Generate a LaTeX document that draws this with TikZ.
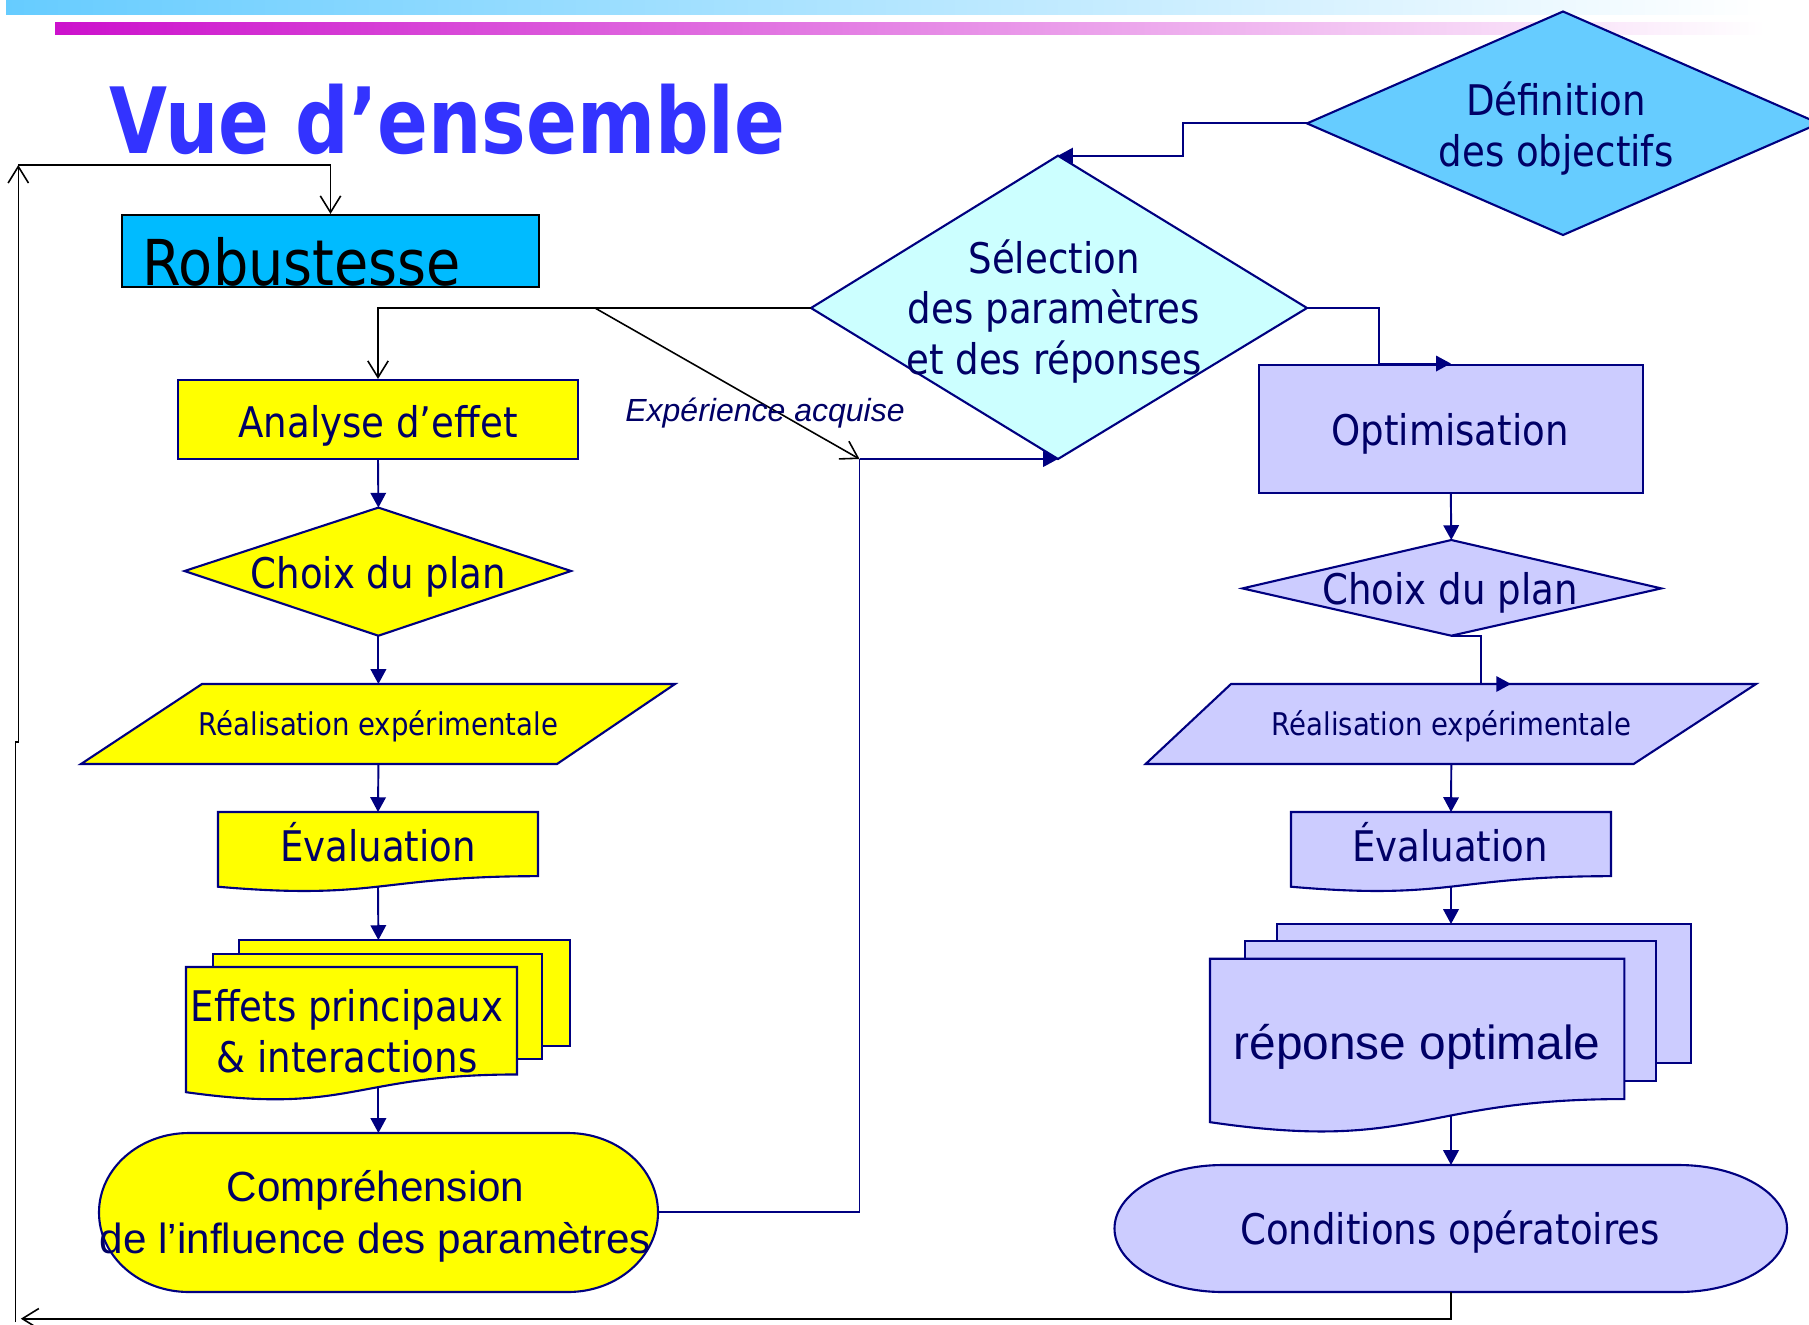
\documentclass[tikz,border=0pt]{standalone}
\usepackage{fontspec}
\setmainfont{DejaVu Sans}
\newfontfamily\tah[FakeStretch=0.88]{DejaVu Sans}
\newfontfamily\ttl[FakeStretch=0.82]{DejaVu Sans}
\newfontfamily\ari{Liberation Sans}
\usetikzlibrary{arrows.meta}
\definecolor{nv}{RGB}{0,0,128}
\definecolor{nt}{RGB}{0,0,102}
\definecolor{yel}{RGB}{255,255,0}
\definecolor{lav}{RGB}{204,204,255}
\definecolor{selc}{RGB}{204,255,255}
\definecolor{defc}{RGB}{102,204,255}
\definecolor{robc}{RGB}{0,187,255}
\definecolor{titlec}{RGB}{51,51,255}
\definecolor{barb}{RGB}{102,204,255}
\definecolor{barm}{RGB}{204,17,204}
\tikzset{
  nline/.style={draw=nv, line width=0.55pt},
  narrow/.style={nline, -{Triangle[length=4.2pt,width=4.4pt]}},
  bline/.style={draw=black, line width=0.45pt},
  barrow/.style={bline, -{Straight Barb[length=4.7pt,width=5.8pt]}},
  shp/.style={draw=nv, line width=0.6pt},
  yshp/.style={shp, fill=yel},
  lshp/.style={shp, fill=lav},
  tx/.style={font=\tah\fontsize{12}{14.5}\selectfont, text=nt, inner sep=0pt, align=center},
  stx/.style={font=\tah\fontsize{8.9}{10.5}\selectfont, text=nt, inner sep=0pt},
  atx/.style={font=\ari\fontsize{12}{14.7}\selectfont, text=nt, inner sep=0pt, align=center},
}
% document shape: style, x, y, w, h
\newcommand{\docshape}[5]{\filldraw[#1] (#2,#3) -- ({#2+#4},#3) -- ({#2+#4},{#3+0.802*#5})
  .. controls ({#2+0.5*#4},{#3+0.802*#5}) and ({#2+0.5*#4},{#3+1.107*#5}) .. (#2,{#3+0.934*#5}) -- cycle;}
% terminator shape: style, x, y, w, h
\newcommand{\termshape}[5]{\filldraw[#1] ({#2+0.161*#4},#3) -- ({#2+0.839*#4},#3)
  .. controls ({#2+0.839*#4+0.0889*#4},#3) and ({#2+#4},{#3+0.5*#5-0.2762*#5}) .. ({#2+#4},{#3+0.5*#5})
  .. controls ({#2+#4},{#3+0.5*#5+0.2762*#5}) and ({#2+0.839*#4+0.0889*#4},{#3+#5}) .. ({#2+0.839*#4},{#3+#5})
  -- ({#2+0.161*#4},{#3+#5})
  .. controls ({#2+0.161*#4-0.0889*#4},{#3+#5}) and (#2,{#3+0.5*#5+0.2762*#5}) .. (#2,{#3+0.5*#5})
  .. controls (#2,{#3+0.5*#5-0.2762*#5}) and ({#2+0.161*#4-0.0889*#4},#3) .. ({#2+0.161*#4},#3) -- cycle;}
\begin{document}
\begin{tikzpicture}[x=0.01cm,y=-0.01cm]
\useasboundingbox (0,0) rectangle (1809,1324);
\clip (0,0) rectangle (1809,1324);
\fill[white] (0,0) rectangle (1809,1324);
% header bars
\shade[left color=barb, right color=white] (6,0) rectangle (1765,14);
\shade[left color=barm, right color=white] (55,22) rectangle (1765,34);
% title
\node[font=\ttl\bfseries\fontsize{26}{30}\selectfont, text=titlec, anchor=base west, inner sep=0pt] (title) at (109,153) {Vue d’ensemble};

% ---------- shapes ----------
% Definition diamond
\coordinate (def-n) at (1563,11.5); \coordinate (def-w) at (1307,123.4);
\coordinate (def-s) at (1563,235); \coordinate (def-e) at (1819,123.4);
\filldraw[shp, fill=defc] (def-n) -- (def-e) -- (def-s) -- (def-w) -- cycle;
\node[tx] (deft) at (1556,129) {Définition\\des objectifs};

% Selection diamond
\coordinate (sel-n) at (1058,155.7); \coordinate (sel-w) at (811,308);
\coordinate (sel-s) at (1058,459); \coordinate (sel-e) at (1307,308);
\filldraw[shp, fill=selc] (sel-n) -- (sel-e) -- (sel-s) -- (sel-w) -- cycle;
\node[tx] (selt) at (1054,311.5) {Sélection\\des paramètres\\et des réponses};

% Robustesse
\node[draw=black, line width=0.6pt, fill=robc, minimum width=4.17cm, minimum height=0.72cm, inner sep=0pt] (rob) at (330.5,251) {};
\node[font=\tah\fontsize{18}{20}\selectfont, text=black, anchor=base west, inner sep=0pt] (robt) at (142,285) {Robustesse};

% Analyse
\node[yshp, minimum width=4.00cm, minimum height=0.79cm, inner sep=0pt] (ana) at (378,419.5) {};
\node[tx, anchor=base] (anat) at (378,437) {Analyse d’effet};

% Choix du plan (left)
\coordinate (ch1-n) at (378.4,507.6); \coordinate (ch1-w) at (184.6,571);
\coordinate (ch1-s) at (378.4,635.7); \coordinate (ch1-e) at (571,571);
\filldraw[yshp] (ch1-n) -- (ch1-e) -- (ch1-s) -- (ch1-w) -- cycle;
\node[tx, anchor=base] (ch1t) at (378.4,588) {Choix du plan};

% Realisation (left)
\coordinate (r1-n) at (378.4,684); \coordinate (r1-s) at (378.4,764);
\filldraw[yshp] (202,684) -- (675,684) -- (557,764) -- (81,764) -- cycle;
\node[stx, anchor=base] (r1t) at (378.4,735) {Réalisation expérimentale};

% Evaluation (left)
\docshape{yshp}{218}{812}{320}{80}
\coordinate (e1-n) at (378,812); \coordinate (e1-s) at (378,886.6);
\node[tx, anchor=base] (e1t) at (378,861) {Évaluation};

% Effets multidocument
\filldraw[yshp] (239,940) rectangle (570,1046);
\filldraw[yshp] (213,954) rectangle (542,1059);
\docshape{yshp}{186}{967}{331}{134}
\coordinate (m1-n) at (378.4,940); \coordinate (m1-s) at (378.4,1087.4);
\node[tx] (m1t) at (347,1031) {Effets principaux\\\& interactions};

% Comprehension terminator
\termshape{yshp}{99}{1133}{559}{159}
\coordinate (t1-n) at (378.4,1133); \coordinate (t1-e) at (658,1212);
\node[atx] (t1t) at (375.5,1216) {Compréhension\\de l’influence des paramètres};

% Optimisation
\node[lshp, minimum width=3.842cm, minimum height=1.28cm, inner sep=0pt] (opt) at (1450.8,428.6) {};
\node[tx, anchor=base] (optt) at (1450,445) {Optimisation};

% Choix du plan (right)
\coordinate (ch2-n) at (1451.3,540); \coordinate (ch2-w) at (1242.5,588.4);
\coordinate (ch2-s) at (1451.3,635.7); \coordinate (ch2-e) at (1661.3,588.4);
\filldraw[lshp] (ch2-n) -- (ch2-e) -- (ch2-s) -- (ch2-w) -- cycle;
\node[tx, anchor=base] (ch2t) at (1450,604) {Choix du plan};

% Realisation (right)
\coordinate (r2-tip) at (1511,684); \coordinate (r2-s) at (1451.3,764);
\filldraw[lshp] (1231,684) -- (1756,684) -- (1633.6,764) -- (1145.6,764) -- cycle;
\node[stx, anchor=base] (r2t) at (1451.3,735) {Réalisation expérimentale};

% Evaluation (right)
\docshape{lshp}{1291}{812}{320}{80}
\coordinate (e2-n) at (1451,812); \coordinate (e2-s) at (1451,886.6);
\node[tx, anchor=base] (e2t) at (1450,861) {Évaluation};

% reponse optimale multidocument
\filldraw[lshp] (1277,924) rectangle (1691,1062.6);
\filldraw[lshp] (1245,941.4) rectangle (1655.6,1081);
\docshape{lshp}{1210}{958.7}{414.4}{175}
\coordinate (m2-n) at (1451,924); \coordinate (m2-s) at (1451,1115.9);
\node[font=\ari\fontsize{13.6}{16}\selectfont, text=nt, inner sep=0pt, anchor=base] (m2t) at (1417,1059) {réponse optimale};

% Conditions operatoires terminator
\termshape{lshp}{1114.5}{1165}{672.5}{127}
\coordinate (t2-n) at (1451,1165); \coordinate (t2-s) at (1451,1292);
\node[tx, anchor=base] (t2t) at (1450,1244) {Conditions opératoires};

% ---------- connectors ----------
\draw[narrow] (ana.south) -- (ch1-n);
\draw[narrow] (ch1-s) -- (r1-n);
\draw[narrow] (r1-s) -- (e1-n);
\draw[narrow] (e1-s) -- (m1-n);
\draw[narrow] (m1-s) -- (t1-n);

\draw[narrow] (opt.south) -- (ch2-n);
\draw[narrow] (ch2-s) -- ++(30,0) |- (r2-tip);
\draw[narrow] (r2-s) -- (e2-n);
\draw[narrow] (e2-s) -- (m2-n);
\draw[narrow] (m2-s) -- (t2-n);

\draw[narrow] (def-w) -- ++(-124.4,0) |- (sel-n);
\draw[narrow] (sel-e) -- ++(71.6,0) |- (opt.north);

\coordinate (exp-c) at (859.5,459);
\coordinate (exp-s) at (595,308);
\draw[nline] (t1-e) -| (exp-c);
\draw[narrow] (exp-c) -- (sel-s);
\draw[barrow] (sel-w) -| (ana.north);
\draw[barrow] (exp-s) -- (exp-c);
\node[font=\ari\itshape\fontsize{9.1}{10}\selectfont, text=nt, inner sep=0pt, anchor=base] (expt) at (765,421.5) {Expérience acquise};

% feedback loop
\coordinate (lp-arr) at (20.8,1318.7);
\coordinate (lp-bl) at (15.7,1322);
\coordinate (lp-j1) at (15.7,741.7);
\coordinate (lp-j2) at (18.3,741.7);
\coordinate (lp-tl) at (18.3,165);
\draw[barrow] (t2-s) |- (lp-arr);
\draw[barrow] (lp-bl) -- (lp-j1) -- (lp-j2) -- (lp-tl);
\draw[barrow] (lp-tl) -| (rob.north);
\end{tikzpicture}
\end{document}
